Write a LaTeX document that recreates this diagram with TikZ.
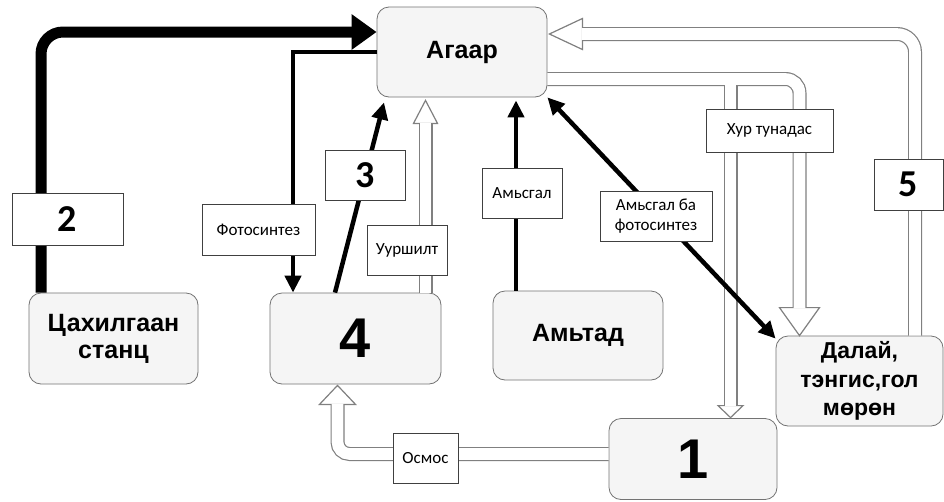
\documentclass[tikz,border=0pt]{standalone}
\usepackage{fontspec}
\setmainfont{Liberation Sans}
\newfontfamily\labfont{Carlito}
\usetikzlibrary{arrows.meta,calc}
\begin{document}
\begin{tikzpicture}[x=1pt,y=-1pt,
  box/.style={draw=black!55, fill=black!4, line width=0.8pt, rounded corners=12pt, inner sep=0pt, align=center, font=\fontsize{25}{27}\selectfont\bfseries},
  bignum/.style={font=\fontsize{56}{60}\selectfont\bfseries},
  lab/.style={draw=black!75, fill=white, line width=0.9pt, inner sep=0pt, align=center, font=\labfont\fontsize{17}{20}\selectfont},
  labnum/.style={lab, font=\labfont\fontsize{38}{40}\selectfont\bfseries},
  tri/.tip={Triangle[length=17pt,width=16pt]},
  blk/.style={line width=4.5pt, -tri},
  hedge/.style={draw=black!50, line width=14pt},
  hin/.style={draw=white, line width=11.6pt},
  hhead/.style={draw=black!50, fill=white, line width=1.2pt, line join=miter},
]
\fill[white] (0,0) rectangle (944,501);
\useasboundingbox (0,0) rectangle (944,501);

% main nodes
\node[box, minimum width=170pt, minimum height=90pt] (agaar) at (462,52) {Агаар};
\node[box, minimum width=169pt, minimum height=91pt] (tsa) at (113.5,338.5) {Цахилгаан\\станц};
\node[box, bignum, minimum width=171pt, minimum height=91pt] (four) at (355.5,338.5) {4};
\node[box, minimum width=170pt, minimum height=89pt] (amt) at (578,335.5) {Амьтад};
\node[box, minimum width=167pt, minimum height=90pt, font=\fontsize{23}{28.5}\selectfont\bfseries] (dalai) at (859.5,381) {Далай,\\тэнгис,гол\\мөрөн};
\node[box, bignum, minimum width=168pt, minimum height=81pt] (one) at (693,459) {1};

% coordinates for hollow arrows
\coordinate (t1) at ([xshift=-36.5pt,yshift=-3pt]agaar.south);
\coordinate (t5) at ([xshift=2pt,yshift=18pt]agaar.east);
\coordinate (hs) at ([yshift=-27pt]agaar.east);
\coordinate (td) at ([xshift=-60pt]dalai.north);
\coordinate (tone) at ([xshift=37.5pt,yshift=0.5pt]one.north);
\coordinate (os) at ([yshift=5pt]one.west);
\coordinate (tf) at ([xshift=-18pt,yshift=-1pt]four.south);
\coordinate (us) at (t1 |- four.north);

% hollow arrows: gray bands
\draw[hedge] (us) -- ($(t1)+(0,23)$);
\draw[hedge, rounded corners=18pt] ([xshift=55.5pt]dalai.north) |- ($(t5)+(33,0)$);
\draw[hedge, rounded corners=14pt] (hs) -| ($(td)+(0,-28)$);
\draw[hedge] (tone |- hs) -- ($(tone)+(0,-12)$);
\draw[hedge, rounded corners=12pt] (os) -| ($(tf)+(0,19)$);
% heads
\draw[hhead] (t1) -- ++(-12,23) -- ++(24,0) -- cycle;
\draw[hhead] (t5) -- ++(33,-15.5) -- ++(0,31) -- cycle;
\draw[hhead] (td) -- ++(-20,-28) -- ++(40,0) -- cycle;
\draw[hhead] (tone) -- ++(-12.5,-12) -- ++(25,0) -- cycle;
\draw[hhead] (tf) -- ++(-18,19) -- ++(36,0) -- cycle;
% white interiors
\draw[hin] (us) -- ($(t1)+(0,22.2)$);
\draw[hin, rounded corners=18pt] ([xshift=55.5pt]dalai.north) |- ($(t5)+(32.2,0)$);
\draw[hin, rounded corners=14pt] (hs) -| ($(td)+(0,-27.2)$);
\draw[hin] (tone |- hs) -- ($(tone)+(0,-11.2)$);
\draw[hin, rounded corners=12pt] (os) -| ($(tf)+(0,18.2)$);

% black arrows
\draw[line width=11pt, rounded corners=22pt, -{Triangle[length=25pt,width=34pt]}] ([xshift=-72.5pt]tsa.north) |- ([yshift=20pt]agaar.west);
\draw[blk] (agaar.west) -| ([xshift=-62.5pt]four.north);
\draw[blk] ([xshift=-20.5pt]four.north) -- ([xshift=-78pt,yshift=-5pt]agaar.south);
\draw[blk] ([xshift=-62pt]amt.north) -- ([xshift=54pt,yshift=-3pt]agaar.south);
\draw[line width=4.5pt, tri-tri] (agaar.south east) -- ([yshift=-3pt]dalai.north west);

% labels
\node[labnum, minimum width=111pt, minimum height=52pt] (l2) at (67.5,219) {2};
\node[lab, minimum width=113pt, minimum height=51pt] (lfoto) at (258.5,229.5) {Фотосинтез};
\node[labnum, minimum width=80pt, minimum height=50pt] (l3) at (365,175) {3};
\node[lab, minimum width=80pt, minimum height=50pt] (lurs) at (407,250) {Ууршилт};
\node[lab, minimum width=80pt, minimum height=50pt] (lams) at (522,193) {Амьсгал};
\node[lab, minimum width=112pt, minimum height=50pt] (lamsf) at (656,216) {Амьсгал ба\\фотосинтез};
\node[lab, minimum width=127pt, minimum height=43pt] (lhur) at (769.5,130.5) {Хур тунадас};
\node[labnum, minimum width=69pt, minimum height=51pt] (l5) at (908.5,184.5) {5};
\node[lab, minimum width=65pt, minimum height=50pt] (losm) at (425.5,458) {Осмос};
\end{tikzpicture}
\end{document}
